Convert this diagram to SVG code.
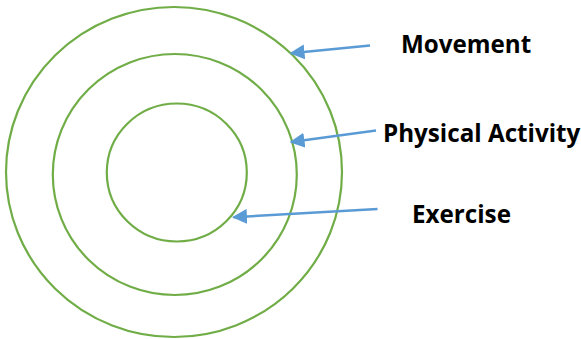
<svg xmlns="http://www.w3.org/2000/svg" width="581" height="339" viewBox="0 0 581 339">
  <defs>
    <style>
      .ring { fill: none; stroke: #70AD47; stroke-width: 2.2; }
      .arrow { fill: none; stroke: #5B9BD5; stroke-width: 2.5; marker-end: url(#head); }
      .label { font-family: "Open Sans", "Liberation Sans", sans-serif; font-weight: bold; font-size: 24.2px; fill: #000000; }
    </style>
    <marker id="head" viewBox="0 0 10 10" refX="9" refY="5" markerWidth="6" markerHeight="6" markerUnits="strokeWidth" orient="auto">
      <path d="M0,0 L10,5 L0,10 Z" fill="#5B9BD5"/>
    </marker>
  </defs>
  <rect width="581" height="339" fill="#ffffff"/>
  <g id="movement">
    <ellipse class="ring" cx="174" cy="172" rx="168" ry="165"/>
    <text class="label" x="401" y="53">Movement</text>
  </g>
  <g id="physical-activity">
    <ellipse class="ring" cx="174.8" cy="174.5" rx="122" ry="120.5"/>
    <text class="label" x="383" y="142">Physical Activity</text>
  </g>
  <g id="exercise">
    <ellipse class="ring" cx="176.8" cy="172.5" rx="70" ry="69"/>
    <text class="label" x="412" y="223">Exercise</text>
  </g>
  <g id="connectors">
    <line class="arrow" x1="370" y1="45.5" x2="291" y2="53.2"/>
    <line class="arrow" x1="376" y1="130.5" x2="291" y2="142"/>
    <line class="arrow" x1="377.5" y1="209" x2="233.5" y2="217.2"/>
  </g>
</svg>
